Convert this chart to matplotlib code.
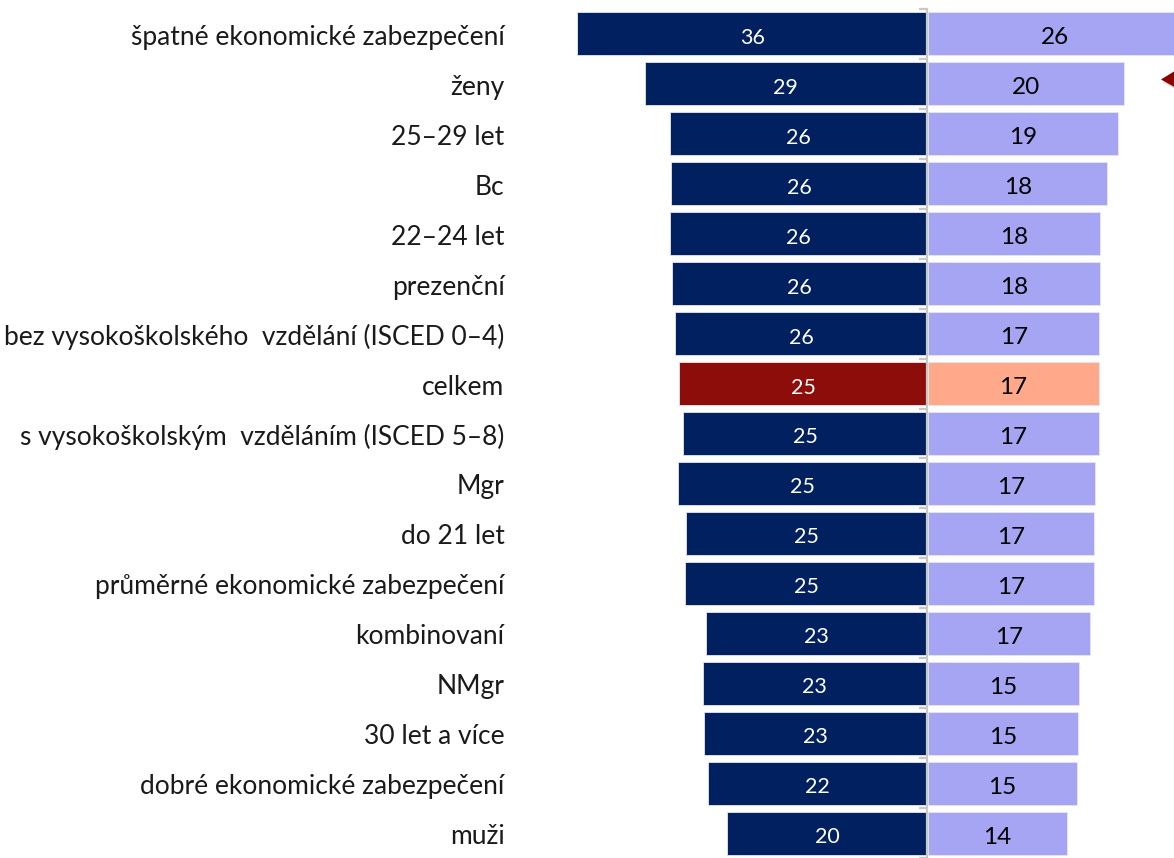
import matplotlib
matplotlib.use("Agg")
import matplotlib.pyplot as plt
from matplotlib.patches import Polygon
import numpy as np

categories = [
    "špatné ekonomické zabezpečení", "ženy", "25–29 let", "Bc", "22–24 let",
    "prezenční", "bez vysokoškolského  vzdělání (ISCED 0–4)", "celkem",
    "s vysokoškolským  vzděláním (ISCED 5–8)", "Mgr", "do 21 let",
    "průměrné ekonomické zabezpečení", "kombinovaní", "NMgr",
    "30 let a více", "dobré ekonomické zabezpečení", "muži",
]
left_values = [35.7, 28.8, 26.2, 26.1, 26.2, 26.0, 25.7, 25.3, 24.9, 25.4,
               24.6, 24.7, 22.6, 22.9, 22.8, 22.3, 20.4]
right_values = [25.9, 20.0, 19.4, 18.3, 17.6, 17.6, 17.5, 17.4, 17.4, 17.0,
                16.9, 16.9, 16.5, 15.4, 15.3, 15.2, 14.2]
left_labels = [36, 29, 26, 26, 26, 26, 26, 25, 25, 25, 25, 25, 23, 23, 23, 22, 20]
right_labels = [26, 20, 19, 18, 18, 18, 17, 17, 17, 17, 17, 17, 17, 15, 15, 15, 14]
highlight = "celkem"

NAVY = "#002060"
LAV = "#A5A5F3"
DRED = "#8C0D09"
SALMON = "#FFA98A"
GRID = "#C8C8C8"

FONT = "Lato"
plt.rcParams["font.family"] = [FONT, "DejaVu Sans"]

W, H = 1174, 858
fig = plt.figure(figsize=(W / 100, H / 100), dpi=100)
ax = fig.add_axes([0, 0, 1, 1])

y = np.arange(len(categories))
lcol = [DRED if c == highlight else NAVY for c in categories]
rcol = [SALMON if c == highlight else LAV for c in categories]

ax.barh(y, [-v for v in left_values], height=0.86, color=lcol,
        edgecolor="#E6E6F0", linewidth=0.6, zorder=2)
ax.barh(y, right_values, left=0.1, height=0.86, color=rcol,
        edgecolor="#E6E6F0", linewidth=0.6, zorder=2)

for i in range(len(categories)):
    ax.text(-left_values[i] / 2, y[i] + 0.04, str(left_labels[i]), ha="center",
            va="center_baseline", color="white", fontsize=15.5, zorder=3)
    ax.text(0.1 + right_values[i] / 2, y[i] + 0.04, str(right_labels[i]), ha="center",
            va="center_baseline", color="black", fontsize=17.5, zorder=3)
    ax.text(-43.1, y[i] + 0.02, categories[i], ha="right", va="center_baseline",
            color="#1a1a1a", fontsize=19, zorder=3)

px = 9.8
ax.set_xlim(-927 / px, (W - 927) / px)
ax.set_ylim(16.34, -0.68)

for s in ["top", "right", "bottom"]:
    ax.spines[s].set_visible(False)
ax.spines["left"].set_position(("data", 0))
ax.spines["left"].set_color(GRID)
ax.spines["left"].set_linewidth(1.6)
ax.spines["left"].set_bounds(-0.5, 17)
ax.spines["left"].set_zorder(4)
ax.set_yticks(np.arange(-0.5, len(categories), 1.0))
ax.set_yticklabels([])
ax.tick_params(axis="y", direction="out", length=6, width=1.6, color=GRID)
ax.set_xticks([])

# red arrow head (cropped annotation at right)
tri = Polygon([[1161, H - 79.5], [1178, H - 69], [1178, H - 89]], closed=True,
              transform=None, facecolor="#8B0000", edgecolor="none", zorder=5)
shadow = Polygon([[1163, H - 82], [1180, H - 72], [1180, H - 92]], closed=True,
                 transform=None, facecolor="#bbbbbb", edgecolor="none", alpha=0.5, zorder=4)
fig.patches.extend([shadow, tri])

fig.savefig("out.png", dpi=100)
